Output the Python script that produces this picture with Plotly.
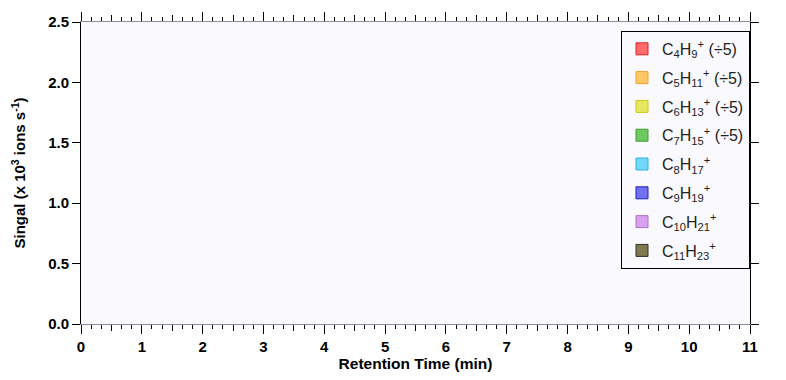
import plotly.graph_objects as go

# Data (the reference chart shows no plotted values, only the legend)
retention_time = [None]
series_names = [
    "C<sub>4</sub>H<sub>9</sub><sup>+</sup> (÷5)",
    "C<sub>5</sub>H<sub>11</sub><sup>+</sup> (÷5)",
    "C<sub>6</sub>H<sub>13</sub><sup>+</sup> (÷5)",
    "C<sub>7</sub>H<sub>15</sub><sup>+</sup> (÷5)",
    "C<sub>8</sub>H<sub>17</sub><sup>+</sup>",
    "C<sub>9</sub>H<sub>19</sub><sup>+</sup>",
    "C<sub>10</sub>H<sub>21</sub><sup>+</sup>",
    "C<sub>11</sub>H<sub>23</sub><sup>+</sup>",
]
series_values = [[None], [None], [None], [None], [None], [None], [None], [None]]
x_ticks = list(range(0, 12))
y_ticks = [0.0, 0.5, 1.0, 1.5, 2.0, 2.5]

fill_colors = ["#FF6A6A", "#FFC866", "#E8E860", "#70C860", "#70D8F8", "#7070F0", "#D8A0F0", "#807850"]
line_colors = ["#E02020", "#F0A030", "#C8C820", "#40A030", "#30B0E0", "#2020C0", "#B070D0", "#303020"]

fig = go.Figure()
for i, (name, vals, fc, lc) in enumerate(zip(series_names, series_values, fill_colors, line_colors)):
    fig.add_trace(go.Bar(x=retention_time, y=vals, name=name, showlegend=True,
                         legendgroup=f"g{i}",
                         marker=dict(color=fc, line=dict(color=lc, width=1))))

# invisible helper traces so the overlay tick axes are drawn
for ax in ("x2", "x3"):
    fig.add_trace(go.Scatter(x=retention_time, y=retention_time, xaxis=ax, yaxis="y",
                             showlegend=False, hoverinfo="skip", mode="markers"))

# tick positions for minor (1/6) and medium (half-unit) ticks
minor_ticks = [i + k / 6 for i in x_ticks[:-1] for k in (1, 2, 4, 5)]
half_ticks = [i + 0.5 for i in x_ticks[:-1]]

font = "Arial, Liberation Sans, sans-serif"
fs = 15
fig.update_layout(
    width=786, height=380,
    margin=dict(l=81, r=36, t=19, b=56),
    paper_bgcolor="#FFFFFF",
    plot_bgcolor="#FAFAFE",
    font=dict(family=font, color="black"),
    showlegend=True,
    legend=dict(
        x=(621 - 81) / 669, y=(324 - 28) / 305, xanchor="left", yanchor="top",
        bgcolor="#FAFAFE", bordercolor="black", borderwidth=1,
        font=dict(size=16, family=font, color="#222222"),
        tracegroupgap=5,
    ),
    xaxis=dict(
        range=[0, 11], tickvals=x_ticks, ticktext=[f"<b>{v}</b>" for v in x_ticks],
        showgrid=False, zeroline=False,
        showline=True, linecolor="#8C8CA0", linewidth=1, mirror="ticks",
        ticks="outside", ticklen=9, tickcolor="black", tickwidth=1,
        tickfont=dict(size=fs, family=font),
        title=dict(text="<b>Retention Time (min)</b>", font=dict(size=15.5, family=font), standoff=2),
    ),
    xaxis2=dict(
        range=[0, 11], overlaying="x", anchor="y", side="bottom",
        tickvals=minor_ticks, showticklabels=False,
        ticks="outside", ticklen=4, tickcolor="black", showgrid=False, zeroline=False,
        showline=False, mirror="ticks",
    ),
    xaxis3=dict(
        range=[0, 11], overlaying="x", anchor="y", side="bottom",
        tickvals=half_ticks, showticklabels=False,
        ticks="outside", ticklen=6, tickcolor="black", showgrid=False, zeroline=False,
        showline=False, mirror="ticks",
    ),
    yaxis=dict(
        range=[0, 2.5], tickvals=y_ticks, ticktext=[f"<b>{v:.1f}</b>" for v in y_ticks],
        showgrid=False, zeroline=False,
        showline=True, linecolor="black", linewidth=1, mirror="ticks",
        ticks="outside", ticklen=8, tickcolor="black",
        tickfont=dict(size=fs, family=font),
        title=dict(text="<b>Singal (x 10<sup>3</sup> ions s<sup>-1</sup>)</b>", font=dict(size=fs, family=font), standoff=18),
    ),
)

fig.write_html("out.html")
